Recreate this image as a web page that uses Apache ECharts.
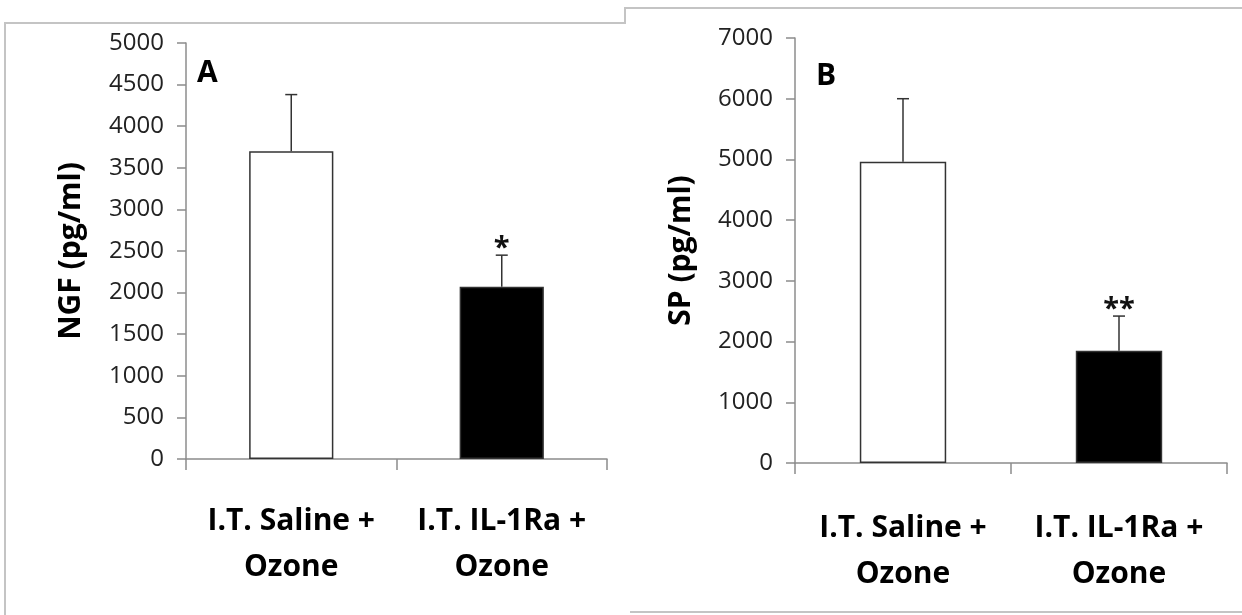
<!DOCTYPE html>
<html>
<head>
<meta charset="utf-8">
<script src="https://cdn.jsdelivr.net/npm/echarts@6/dist/echarts.min.js"></script>
<style>html,body{margin:0;padding:0;background:#fff}#c{width:1242px;height:615px}</style>
</head>
<body>
<div id="c"></div>
<script>
// ---- data ----
const categories = ['I.T. Saline +\nOzone', 'I.T. IL-1Ra +\nOzone'];
const ngfMean = [3700, 2070];
const ngfUpper = [4380, 2450];
const spMean = [4960, 1850];
const spUpper = [6000, 2420];
const sigA = ['', '*'];
const sigB = ['', '**'];
const barColors = ['#ffffff', '#000000'];

const FONT = '"Open Sans", "Liberation Sans", sans-serif';
const chart = echarts.init(document.getElementById('c'), null, {renderer: 'canvas'});

function errData(mean, upper, sig) {
  return mean.map((m, i) => [i, upper[i], m, sig[i]]);
}
const sigBySeries = {1: sigA, 3: sigB};
function renderErr(params, api) {
  const i = api.value(0);
  const top = api.coord([i, api.value(1)]);
  const base = api.coord([i, api.value(2)]);
  const sig = sigBySeries[params.seriesIndex][params.dataIndex];
  const children = [
    {type: 'line', shape: {x1: base[0], y1: base[1], x2: top[0], y2: top[1]}, style: {stroke: '#333', lineWidth: 1.5}},
    {type: 'line', shape: {x1: top[0] - 6, y1: top[1], x2: top[0] + 6, y2: top[1]}, style: {stroke: '#333', lineWidth: 1.5}}
  ];
  if (sig) {
    children.push({type: 'text', style: {text: sig, x: top[0], y: top[1] - 6, align: 'center', verticalAlign: 'middle',
      font: 'bold 29px ' + FONT, fill: '#111'}});
  }
  return {type: 'group', children};
}

function yAx(idx, max, interval, name, gap) {
  return {
    gridIndex: idx, type: 'value', min: 0, max: max, interval: interval,
    name: name, nameLocation: 'middle', nameGap: gap, nameRotate: 90,
    nameTextStyle: {fontFamily: FONT, fontWeight: 'bold', fontSize: 30, color: '#000'},
    axisLine: {show: true, lineStyle: {color: '#8c8c8c', width: 1.5}},
    axisTick: {show: true, length: 9, lineStyle: {color: '#8c8c8c', width: 1.5}},
    axisLabel: {fontFamily: FONT, fontSize: 24, color: '#222', margin: 22, formatter: v => String(v)},
    splitLine: {show: false}
  };
}
function xAx(idx, margin) {
  return {
    gridIndex: idx, type: 'category', data: categories,
    axisLine: {show: true, lineStyle: {color: '#8c8c8c', width: 1.5}},
    axisTick: {show: true, length: 11, lineStyle: {color: '#8c8c8c', width: 1.5}},
    axisLabel: {fontFamily: FONT, fontSize: 30, fontWeight: 'bold', color: '#000', margin: margin, lineHeight: 46, interval: 0}
  };
}
function barSeries(idx, vals) {
  return {
    type: 'bar', xAxisIndex: idx, yAxisIndex: idx, barWidth: '40%',
    data: vals.map((v, i) => ({value: v, itemStyle: {color: barColors[i]}})),
    itemStyle: {borderColor: '#333', borderWidth: 1.5}
  };
}

const option = {
  animation: false,
  backgroundColor: '#fff',
  grid: [
    {left: 186, right: 635, top: 43, bottom: 156},
    {left: 795, right: 15, top: 38, bottom: 152}
  ],
  xAxis: [xAx(0, 39), xAx(1, 42)],
  yAxis: [yAx(0, 5000, 500, 'NGF (pg/ml)', 100), yAx(1, 7000, 1000, 'SP (pg/ml)', 99)],
  series: [
    barSeries(0, ngfMean),
    {type: 'custom', xAxisIndex: 0, yAxisIndex: 0, renderItem: renderErr, data: errData(ngfMean, ngfUpper, sigA), z: 5},
    barSeries(1, spMean),
    {type: 'custom', xAxisIndex: 1, yAxisIndex: 1, renderItem: renderErr, data: errData(spMean, spUpper, sigB), z: 5}
  ],
  graphic: [
    {type: 'polyline', shape: {points: [[5, 615], [5, 23], [625, 23], [625, 8], [1242, 8]]}, style: {stroke: '#c4c4c4', lineWidth: 2, fill: null}},
    {type: 'line', shape: {x1: 630, y1: 612, x2: 1242, y2: 612}, style: {stroke: '#c4c4c4', lineWidth: 2}},
    {type: 'text', left: 197, top: 58, style: {text: 'A', font: 'bold 30px ' + FONT, fill: '#000'}},
    {type: 'text', left: 816, top: 61, style: {text: 'B', font: 'bold 30px ' + FONT, fill: '#000'}}
  ]
};
chart.setOption(option);
</script>
</body>
</html>
